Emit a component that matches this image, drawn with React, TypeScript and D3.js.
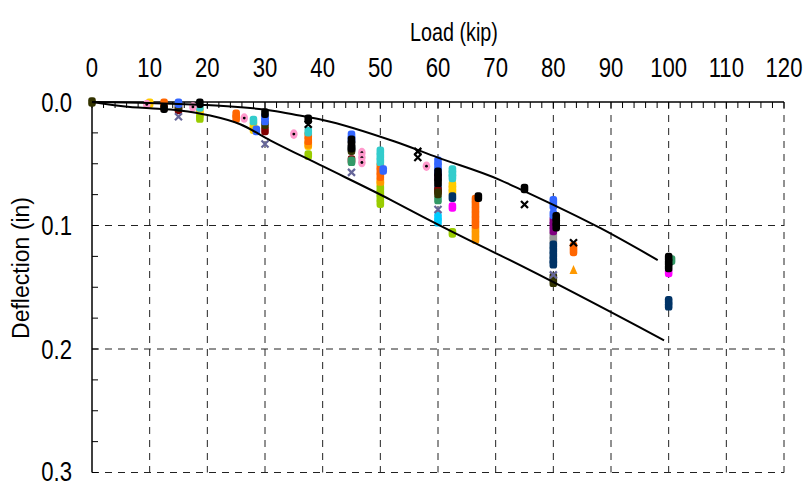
import React from "react";
import * as d3 from "d3";

// ---------- data ----------
const xTicks = [0, 10, 20, 30, 40, 50, 60, 70, 80, 90, 100, 110, 120];
const yTicks = [0, 0.1, 0.2, 0.3];

// envelope curves [load kip, deflection in]
const upperCurve = [
  [0, 0], [10, 0.0008], [20, 0.0025], [31.3, 0.007], [36, 0.011], [40, 0.0145],
  [52.5, 0.032], [60, 0.045], [70.7, 0.063], [74.2, 0.0705], [88.1, 0.102], [98.1, 0.128],
];
const lowerCurve = [
  [0, 0], [6.6, 0.004], [10, 0.005], [15.2, 0.0068], [20.5, 0.011], [25.7, 0.018],
  [30.9, 0.031], [40, 0.052], [51.7, 0.079], [57.4, 0.093], [68.5, 0.119], [70.7, 0.124], [99.2, 0.193],
];

// measured points [load kip, deflection in]
const ptsBlue = [[15, 0.001], [30, 0.012], [30, 0.015], [45, 0.027], [45, 0.03], [60, 0.048], [60, 0.052], [60, 0.056], [80, 0.08], [80, 0.084], [80, 0.091], [28.5, 0.023], [50.5, 0.055]];
const ptsCyan = [[18.7, 0.004], [28, 0.015], [37.5, 0.024], [50, 0.04], [50, 0.044], [50, 0.048], [62.5, 0.055], [62.5, 0.058], [62.5, 0.061]];
const ptsOrange = [[12.5, 0.001], [12.5, 0.004], [25, 0.01], [25, 0.013], [37.5, 0.027], [37.5, 0.031], [50, 0.052], [50, 0.056], [50, 0.06], [66.5, 0.079], [66.5, 0.083], [66.5, 0.087], [66.5, 0.091], [66.5, 0.095], [66.5, 0.099], [83.5, 0.117], [83.5, 0.121]];
const ptsLightOrange = [[37.5, 0.034], [50, 0.064], [66.5, 0.103], [66.5, 0.107], [66.5, 0.111]];
const ptsTriangle = [[83.5, 0.136]];
const ptsYellow = [[10, 0.001], [18.7, 0.007], [18.7, 0.01], [28, 0.019], [28, 0.022], [37.5, 0.035], [50, 0.066], [62.5, 0.067], [62.5, 0.07], [62.5, 0.073]];
const ptsGreen = [[18.7, 0.013], [37.5, 0.043], [50, 0.07], [50, 0.074], [50, 0.078], [50, 0.082], [62.5, 0.106]];
const ptsOlive = [[0, 0], [15, 0.004], [30, 0.018], [45, 0.039], [60, 0.074], [80, 0.142], [80, 0.146]];
const ptsDarkRed = [[15, 0.006], [30, 0.023], [45, 0.047], [60, 0.072]];
const ptsLavenderX = [[15, 0.012], [30, 0.034], [45, 0.057], [60, 0.087], [80, 0.14]];
const ptsPink = [[9.5, 0.002], [17.5, 0.004], [26.4, 0.013], [35, 0.026], [46.8, 0.041], [46.8, 0.045], [46.8, 0.049], [58, 0.052]];
const ptsMagenta = [[62.5, 0.085], [100, 0.138]];
const ptsNavy = [[60, 0.07], [62.5, 0.077], [80, 0.116], [80, 0.12], [80, 0.124], [80, 0.128], [80, 0.131], [100, 0.161], [100, 0.165], [45, 0.038]];
const ptsPurple = [[60, 0.06], [80, 0.096], [80, 0.1], [80, 0.104]];
const ptsGray = [[60, 0.066], [80, 0.108], [80, 0.112]];
const ptsSky = [[60, 0.093], [60, 0.097]];
const ptsSeaGreen = [[45, 0.048], [60, 0.079], [100.5, 0.128]];
const ptsBlack = [[12.5, 0.005], [18.7, 0.001], [30, 0.009], [37.5, 0.014], [45, 0.031], [45, 0.034], [45, 0.037], [60, 0.057], [60, 0.061], [60, 0.065], [67, 0.077], [75, 0.07], [80.5, 0.093], [80.5, 0.097], [80.5, 0.101], [100, 0.126], [100, 0.13], [100, 0.134]];
const ptsBlackX = [[37.5, 0.018], [56.5, 0.04], [56.5, 0.045], [75, 0.083], [83.5, 0.114]];

const seriesList = [
  { pts: ptsYellow, color: "#FFCC00", shape: "pill" },
  { pts: ptsGreen, color: "#99CC00", shape: "pill" },
  { pts: ptsLightOrange, color: "#FF9900", shape: "pill" },
  { pts: ptsOrange, color: "#FF6600", shape: "pill" },
  { pts: ptsCyan, color: "#33CCCC", shape: "pill" },
  { pts: ptsSky, color: "#00CCFF", shape: "pill" },
  { pts: ptsGray, color: "#969696", shape: "pill" },
  { pts: ptsPurple, color: "#800080", shape: "pill" },
  { pts: ptsNavy, color: "#003366", shape: "pill" },
  { pts: ptsDarkRed, color: "#800000", shape: "pill" },
  { pts: ptsSeaGreen, color: "#339966", shape: "pill" },
  { pts: ptsOlive, color: "#333300", shape: "pill" },
  { pts: ptsBlue, color: "#3366FF", shape: "pill" },
  { pts: ptsMagenta, color: "#FF00FF", shape: "pill" },
  { pts: ptsBlack, color: "#000000", shape: "pill" },
  { pts: ptsPink, color: "#FF99CC", shape: "dot" },
  { pts: ptsLavenderX, color: "#666699", shape: "x" },
  { pts: ptsBlackX, color: "#000000", shape: "x" },
  { pts: ptsTriangle, color: "#FF9900", shape: "tri" },
];

// ---------- layout ----------
const W = 807, H = 483;
const x = d3.scaleLinear().domain([0, 120]).range([92, 784]);
const y = d3.scaleLinear().domain([0, 0.3]).range([102, 472.5]);
const FONT = "'Liberation Sans', Arial, sans-serif";

function Marker({ cx, cy, color, shape }: any) {
  if (shape === "x") {
    const s = 3.5;
    return (
      <path d={`M${cx - s},${cy - s}L${cx + s},${cy + s}M${cx - s},${cy + s}L${cx + s},${cy - s}`} stroke={color} strokeWidth={2.2} />
    );
  }
  if (shape === "tri") {
    return <path d={`M${cx},${cy - 5}L${cx + 4},${cy + 4}L${cx - 4},${cy + 4}Z`} fill={color} />;
  }
  if (shape === "dot") {
    return (
      <g>
        <ellipse cx={cx} cy={cy} rx={3.8} ry={4.8} fill={color} />
        <circle cx={cx} cy={cy} r={1.4} fill="#000" />
      </g>
    );
  }
  return <rect x={cx - 3.8} y={cy - 4.8} width={7.6} height={9.6} rx={2.8} ry={3.2} fill={color} />;
}

export default function App() {
  const line = d3.line<number[]>().x((d) => x(d[0])).y((d) => y(d[1])).curve(d3.curveMonotoneX);
  const minorX = d3.range(0, 121, 2);
  const minorY = d3.range(0, 0.3001, 0.025);
  return (
    <svg width={W} height={H} style={{ position: "absolute", left: 0, top: 0, background: "#fff" }} fontFamily={FONT}>
      <rect width={W} height={H} fill="#fff" />
      {/* grid */}
      {xTicks.slice(1).map((t) => (
        <line key={"gx" + t} x1={x(t)} x2={x(t)} y1={y(0)} y2={y(0.3)} stroke="#222" strokeWidth={1} strokeDasharray="7,6" />
      ))}
      {yTicks.slice(1).map((t) => (
        <line key={"gy" + t} x1={x(0)} x2={x(120)} y1={y(t)} y2={y(t)} stroke="#222" strokeWidth={1} strokeDasharray="7,6" />
      ))}
      {/* axes */}
      <line x1={x(0)} x2={x(120)} y1={y(0)} y2={y(0)} stroke="#000" strokeWidth={1.5} />
      <line x1={x(0)} x2={x(0)} y1={y(0)} y2={y(0.3)} stroke="#000" strokeWidth={1.5} />
      {minorX.map((t) => (
        <line key={"tx" + t} x1={x(t)} x2={x(t)} y1={y(0)} y2={y(0) + 6} stroke="#000" strokeWidth={1} />
      ))}
      {minorY.map((t, i) => (
        <line key={"ty" + i} x1={x(0)} x2={x(0) + 6} y1={y(t)} y2={y(t)} stroke="#000" strokeWidth={1} />
      ))}
      {/* tick labels */}
      {xTicks.map((t) => (
        <text key={"lx" + t} transform={`translate(${x(t)},77) scale(0.82,1)`} textAnchor="middle" fontSize={27} fill="#000">
          {t}
        </text>
      ))}
      {yTicks.map((t) => (
        <text key={"ly" + t} transform={`translate(72,${Math.min(y(t) + 9.5, 481)}) scale(0.82,1)`} textAnchor="end" fontSize={27} fill="#000">
          {t.toFixed(1)}
        </text>
      ))}
      <text transform="translate(454,41) scale(0.76,1)" textAnchor="middle" fontSize={26} fill="#000">Load (kip)</text>
      <text transform="translate(29,268) rotate(-90)" textAnchor="middle" fontSize={23} fill="#000">Deflection (in)</text>
      {/* points */}
      {seriesList.map((s, si) => (
        <g key={"s" + si}>
          {s.pts.map((p, pi) => (
            <Marker key={pi} cx={x(p[0])} cy={y(p[1])} color={s.color} shape={s.shape} />
          ))}
        </g>
      ))}
      {/* curves */}
      <path d={line(upperCurve as any) || ""} fill="none" stroke="#000" strokeWidth={2} />
      <path d={line(lowerCurve as any) || ""} fill="none" stroke="#000" strokeWidth={2} />
    </svg>
  );
}
